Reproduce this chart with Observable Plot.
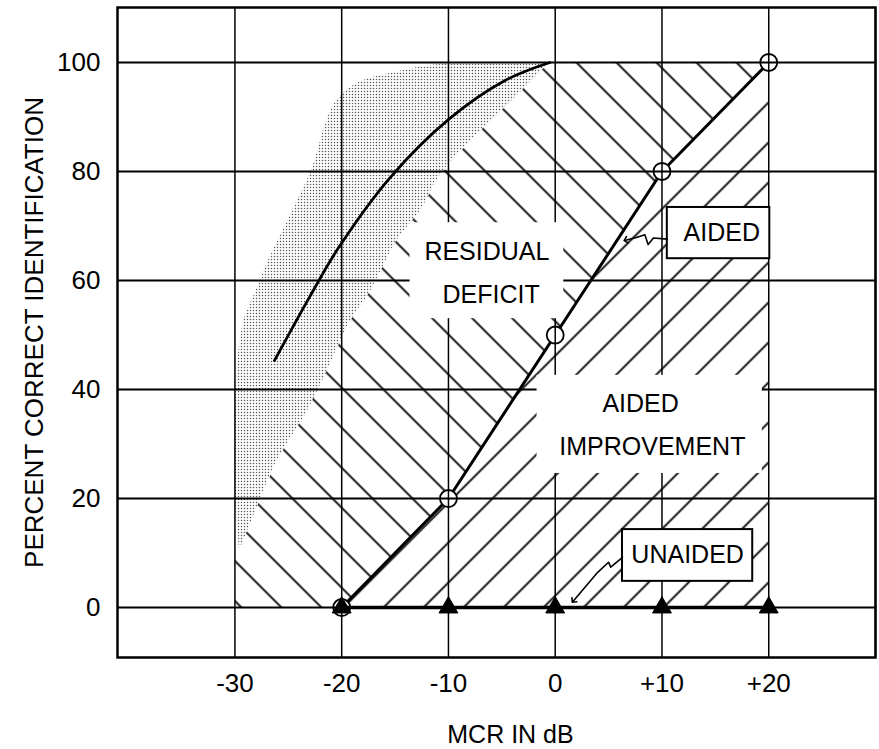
<!DOCTYPE html>
<html>
<head>
<meta charset="utf-8">
<script src="https://cdn.jsdelivr.net/npm/d3@7"></script>
<script src="https://cdn.jsdelivr.net/npm/@observablehq/plot@0.6"></script>
<style>
  html, body { margin: 0; padding: 0; background: #fff; }
  svg { display: block; }
</style>
</head>
<body>
<div id="chart"></div>
<script>
// ---------- data ----------
const xTicks = [-30, -20, -10, 0, 10, 20];
const xGrid = [-30, -20, -10, 0, 10, 20, 30];
const yTicks = [0, 20, 40, 60, 80, 100];

// performance curve inside the stippled band  [MCR dB, % correct]
const idealCurve = [[-26.3, 45.3], [-23.0, 57.0], [-20.3, 66.0], [-15.5, 78.8], [-9.9, 89.7], [-4.7, 96.7], [-0.5, 100]];

// stippled band: left edge (bottom -> top) and right edge (top -> bottom)
const bandLeft = [[-29.6, 10.5], [-30.0, 20], [-30.0, 35.6], [-29.8, 44.8], [-29.2, 52.7], [-28.2, 57.6], [-26.8, 64.2],
  [-24.8, 72.3], [-22.8, 80.7], [-21.6, 88.5], [-20.8, 92.3], [-19.6, 95.0], [-18.0, 96.8], [-15.0, 98.3], [-11.9, 99.5], [-7.0, 100], [-0.6, 100]];
const bandRight = [[-0.6, 100], [-2.25, 96.7], [-4.8, 91.7], [-8.0, 85.7], [-11.0, 78.9], [-12.5, 73.4], [-14.9, 67.3],
  [-16.5, 61.3], [-17.5, 57.6], [-19.4, 52.1], [-21.4, 43.5], [-23.4, 35.6], [-26.1, 27], [-28.1, 17.8], [-29.6, 10.5]];

// aided and unaided results
const aidedMCR = [-20, -10, 0, 10, 20];
const aidedPct = [0, 20, 50, 80, 100];
const unaidedMCR = [-20, -10, 0, 10, 20];
const unaidedPct = [0, 0, 0, 0, 0];

// outer corners of the hatched regions
const deficitCorner = [[-30, 0], [-30, 9.5]];
const improvementCorner = [[20, 0]];

// text annotations
const regionLabels = [
  {text: "RESIDUAL", x: -6.4, y: 65.3},
  {text: "DEFICIT", x: -6.0, y: 57.3},
  {text: "AIDED", x: 8.0, y: 37.4},
  {text: "IMPROVEMENT", x: 9.1, y: 29.4}
];
const labelClearings = [
  {x1: -13.6, x2: 0.8, y1: 53.0, y2: 70.6},
  {x1: -1.7, x2: 19.4, y1: 24.6, y2: 42.6}
];
const boxLabels = [
  {text: "AIDED", tx: 15.6, ty: 68.8, x1: 10.5, x2: 20.1, y1: 64.0, y2: 73.4},
  {text: "UNAIDED", tx: 12.4, ty: 9.6, x1: 6.3, x2: 18.5, y1: 4.8, y2: 14.3}
];
const aidedPointer = [[10.5, 67.6], [9.2, 67.8], [8.7, 66.6], [8.4, 68.4], [7.6, 67.9], [6.6, 67.4]];
const unaidedPointer = [[6.3, 9.2], [5.2, 7.4], [5.0, 8.3], [3.9, 6.3], [1.7, 1.2]];

const xTitle = "MCR IN dB";
const yTitle = "PERCENT CORRECT IDENTIFICATION";

// ---------- tables ----------
const pts = a => a.map(([x, y]) => ({x, y}));
const aided = aidedMCR.map((x, i) => ({x, y: aidedPct[i]}));
const unaided = unaidedMCR.map((x, i) => ({x, y: unaidedPct[i]}));
const aidedPairs = aidedMCR.map((x, i) => [x, aidedPct[i]]);
const bandPoly = pts([...bandLeft, ...bandRight]);
const deficitPoly = pts([...deficitCorner, ...bandRight.slice().reverse(), ...aidedPairs.slice().reverse()]);
const improvementPoly = pts([...aidedPairs, ...improvementCorner]);

const fmtX = d => d > 0 ? `+${d}` : d < 0 ? `-${Math.abs(d)}` : "0";
const font = "'Liberation Sans', Arial, sans-serif";

const chart = Plot.plot({
  width: 879,
  height: 749,
  marginLeft: 117,
  marginRight: 4,
  marginTop: 7,
  marginBottom: 92,
  x: {domain: [-41, 30]},
  y: {domain: [-9.17, 110.09]},
  style: {fontFamily: font, fontSize: "26px", color: "black", background: "white"},
  marks: [
    Plot.line(bandPoly, {x: "x", y: "y", curve: "catmull-rom", fill: "url(#stipple)", stroke: "none"}),
    Plot.line(deficitPoly, {x: "x", y: "y", fill: "url(#hatchBack)", stroke: "none"}),
    Plot.line(improvementPoly, {x: "x", y: "y", fill: "url(#hatchFwd)", stroke: "none"}),
    Plot.line(aided, {x: "x", y: "y", stroke: "black", strokeWidth: 3}),
    Plot.dot(aided, {x: "x", y: "y", r: 8.5, fill: "white", stroke: "none"}),
    Plot.ruleX(xGrid, {stroke: "black", strokeWidth: 1.5}),
    Plot.ruleY(yTicks, {stroke: "black", strokeWidth: 2}),
    Plot.line(pts(idealCurve), {x: "x", y: "y", curve: "catmull-rom", stroke: "black", strokeWidth: 2.8}),
    Plot.rect(labelClearings, {x1: "x1", x2: "x2", y1: "y1", y2: "y2", fill: "white"}),
    Plot.line(unaided, {x: "x", y: "y", stroke: "black", strokeWidth: 3.5}),
    Plot.dot(aided, {x: "x", y: "y", r: 8.5, fill: "none", stroke: "black", strokeWidth: 1.8}),
    Plot.dot(unaided, {x: "x", y: "y", symbol: "triangle", r: 7, fill: "black", stroke: "black", strokeWidth: 1}),
    Plot.rect(boxLabels, {x1: "x1", x2: "x2", y1: "y1", y2: "y2", fill: "white", stroke: "black", strokeWidth: 2}),
    Plot.line(pts(aidedPointer), {x: "x", y: "y", stroke: "black", strokeWidth: 1.6, markerEnd: "arrow"}),
    Plot.line(pts(unaidedPointer), {x: "x", y: "y", stroke: "black", strokeWidth: 1.6, markerEnd: "arrow"}),
    Plot.text(regionLabels, {x: "x", y: "y", text: "text", fontSize: 25, fill: "black"}),
    Plot.text(boxLabels, {x: "tx", y: "ty", text: "text", fontSize: 25, fill: "black"}),
    Plot.axisX(xTicks, {tickSize: 0, tickPadding: 16, tickFormat: fmtX, fontSize: 26, label: null}),
    Plot.axisY(yTicks, {tickSize: 0, tickPadding: 17, tickFormat: d => String(d), fontSize: 26, label: null}),
    Plot.text([xTitle], {text: d => d, frameAnchor: "bottom", textAnchor: "middle", dx: 14, dy: 77, lineAnchor: "middle", fontSize: 25}),
    Plot.text([yTitle], {text: d => d, frameAnchor: "left", textAnchor: "middle", rotate: -90, dx: -83, lineAnchor: "middle", fontSize: 26}),
    Plot.frame({stroke: "black", strokeWidth: 2.5})
  ]
});

chart.insertAdjacentHTML("afterbegin", `
<defs>
  <pattern id="stipple" patternUnits="userSpaceOnUse" x="-0.5" y="-0.5" width="3" height="3">
    <circle cx="1.5" cy="1.5" r="0.75" fill="#555"></circle>
  </pattern>
  <pattern id="hatchBack" patternUnits="userSpaceOnUse" x="34" y="0" width="40" height="40">
    <path d="M-10,-10L50,50M-10,30L10,50M30,-10L50,10" stroke="black" stroke-width="1.8" fill="none"></path>
  </pattern>
  <pattern id="hatchFwd" patternUnits="userSpaceOnUse" x="30" y="0" width="40" height="40">
    <path d="M-10,50L50,-10M-10,10L10,-10M30,50L50,30" stroke="black" stroke-width="1.8" fill="none"></path>
  </pattern>
</defs>`);

document.getElementById("chart").appendChild(chart);
</script>
</body>
</html>
